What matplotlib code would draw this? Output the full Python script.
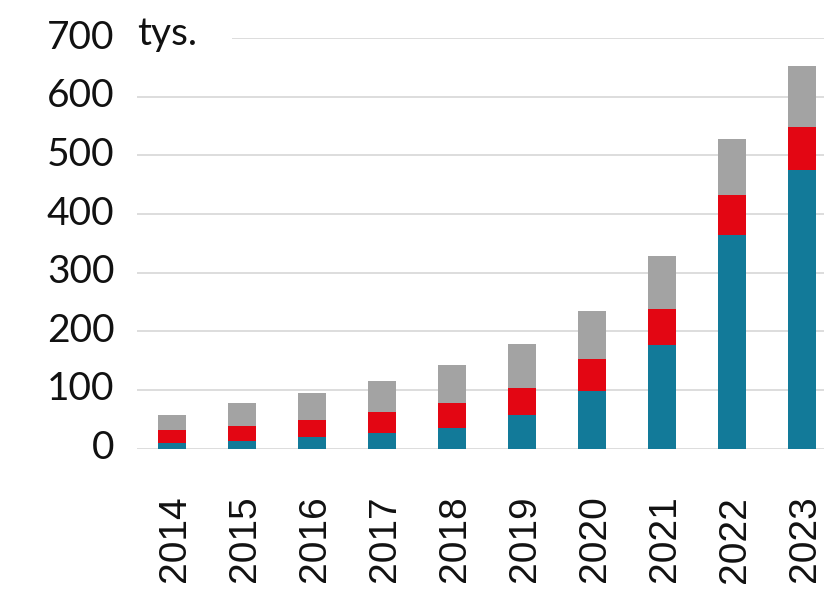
import matplotlib.pyplot as plt
from matplotlib.patches import Rectangle
from matplotlib.transforms import ScaledTranslation
import numpy as np

years = ['2014', '2015', '2016', '2017', '2018', '2019', '2020', '2021', '2022', '2023']
# stacked totals (tys.)
blue = [9, 13, 19, 27, 35, 57, 98, 176, 364, 476]
red_top = [31, 39, 48, 63, 77, 104, 152, 238, 432, 548]
total = [57, 77, 94, 116, 142, 179, 235, 328, 529, 653]

red = [r - b for r, b in zip(red_top, blue)]
gray = [t - r for t, r in zip(total, red_top)]

c_blue = '#127a99'
c_red = '#e30613'
c_gray = '#a3a3a3'

plt.rcParams['font.family'] = ['Lato', 'DejaVu Sans']

fig = plt.figure(figsize=(8.24, 6.01), dpi=100)
ax = fig.add_axes([0.166, 0.2537, 0.834, 0.6826])

x = np.arange(len(years))
w = 0.4
ax.bar(x, blue, w, color=c_blue, zorder=3)
ax.bar(x, red, w, bottom=blue, color=c_red, zorder=3)
ax.bar(x, gray, w, bottom=red_top, color=c_gray, zorder=3)

ax.set_xlim(-0.507, 9.31)
ax.set_ylim(0, 700)
ax.set_yticks(range(0, 701, 100))
ax.grid(axis='y', color='#dadada', linewidth=1.3, zorder=0)
ax.set_axisbelow(True)
for s in ax.spines.values():
    s.set_visible(False)

ax.tick_params(axis='y', length=0, labelsize=28, pad=16, labelcolor='#111111')
ax.set_xticks(x)
ax.set_xticklabels(years, rotation=90, fontsize=28, family='Liberation Sans', color='#111111')
ax.tick_params(axis='x', length=0, pad=34)

# small nudges so labels sit like in the original
up = ScaledTranslation(0, 4 / 100, fig.dpi_scale_trans)
for lbl in ax.get_yticklabels():
    lbl.set_transform(lbl.get_transform() + up)
right = ScaledTranslation(3 / 100, 0, fig.dpi_scale_trans)
for lbl in ax.get_xticklabels():
    lbl.set_transform(lbl.get_transform() + right)

# gap in the top gridline behind the unit label
ax.add_patch(Rectangle((0, 690), 95 / 687, 20, transform=ax.get_yaxis_transform(),
                       facecolor='white', edgecolor='none', zorder=1, clip_on=False))
ax.text(0.0, 700, 'tys.', transform=ax.get_yaxis_transform() + up, fontsize=28,
        color='#111111', va='center', ha='left', zorder=5)

fig.savefig('out.png', dpi=100)
